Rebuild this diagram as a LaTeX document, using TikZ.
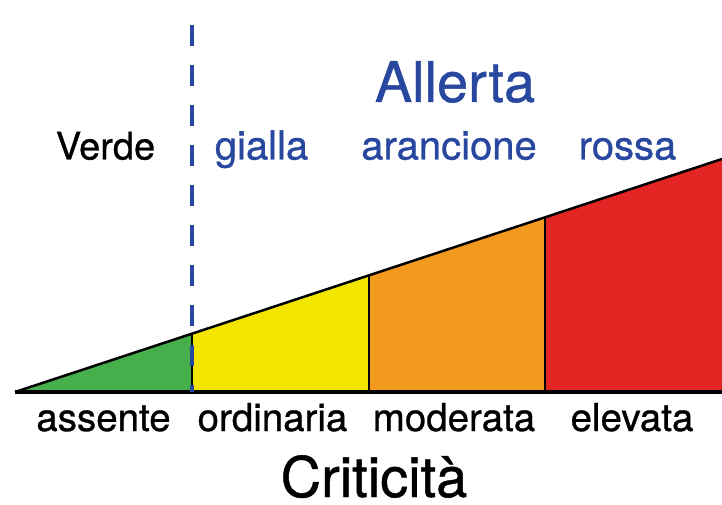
\documentclass[tikz,border=0pt]{standalone}
\usepackage{fontspec}
\setmainfont{TeX Gyre Heros}[FakeBold=0.8]
\usetikzlibrary{calc,positioning}
\definecolor{verdeC}{RGB}{70,174,74}
\definecolor{gialloC}{RGB}{242,230,0}
\definecolor{aranC}{RGB}{242,154,30}
\definecolor{rossoC}{RGB}{227,38,35}
\definecolor{bluAll}{RGB}{40,72,160}

\begin{document}
\begin{tikzpicture}[x=1pt,y=1pt,
		livello/.style={anchor=base,inner sep=0pt,font=\fontsize{38.5}{40}\selectfont},
		allerta/.style={livello,text=bluAll,font=\fontsize{40}{42}\selectfont},
		divisore/.style={black,line width=2pt}]
	
	\useasboundingbox (0,0) rectangle (722,504);
	
	\coordinate (O) at (15,112);
	\coordinate (B) at (722,112);
	\coordinate (E) at (722,345);
	\foreach \k/\n in {1/a,2/b,3/c}{
		\coordinate (t\n) at ($(O)!\k/4!(E)$);
		\coordinate (b\n) at ($(O)!\k/4!(B)$);
	}
	\coordinate (cima) at (ba |- 0,479);
	
	\fill[verdeC] (O) -- (ta) -- (ba) -- cycle;
	\fill[gialloC] (ba) -- (ta) -- (tb) -- (bb) -- cycle;
	\fill[aranC] (bb) -- (tb) -- (tc) -- (bc) -- cycle;
	\fill[rossoC] (bc) -- (tc) -- (E) -- (B) -- cycle;
	
	\draw[divisore] (ba) -- (ta);
	\draw[divisore] (bb) -- (tb);
	\draw[divisore] (bc) -- (tc);
	\draw[line width=2.5pt] (O) -- (E);
	\draw[line width=3.5pt] (O) -- (B);
	
	\draw[bluAll, line width=4.5pt, dash pattern=on 21pt off 19pt] (cima) -- (ba);
	
	\node[allerta, font=\fontsize{56}{60}\selectfont] (all) at (455,402) {Allerta};
	\node[livello, font=\fontsize{38}{40}\selectfont] (verde) at (105.5,344.5) {Verde};
	\node[allerta] (gia) at (261.5,344.5) {gialla};
	\node[allerta] (ara) at (449,344.5) {arancione};
	\node[allerta] (ros) at (627.5,344.5) {rossa};
	
	\node[livello] (ass) at (103.5,73) {assente};
	\node[livello] (ord) at (272.5,73) {ordinaria};
	\node[livello] (mod) at (454,73) {moderata};
	\node[livello] (ele) at (632,73) {elevata};
	
	\node[livello, text depth=0pt, font=\fontsize{56}{60}\selectfont] (crit) at (374,7) {Criticità};
	
\end{tikzpicture}
\end{document}
